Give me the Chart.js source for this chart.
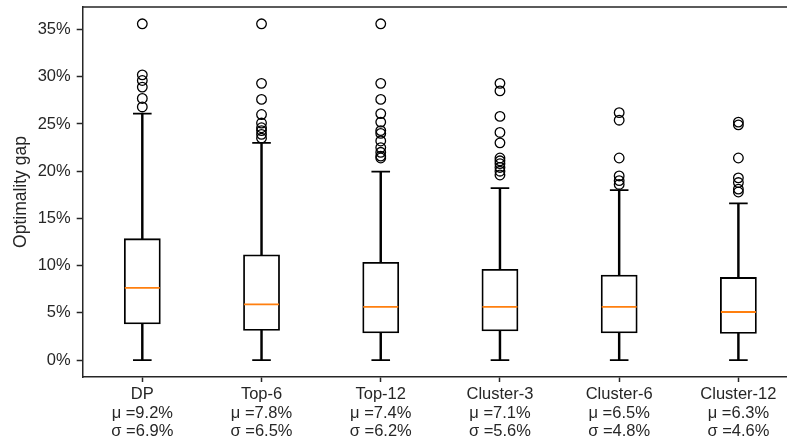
<!DOCTYPE html>
<html>
<head>
<meta charset="utf-8">
<script src="https://cdn.jsdelivr.net/npm/chart.js@4.4.1/dist/chart.umd.min.js"></script>
<style>
  html, body { margin: 0; padding: 0; overflow: hidden; background: #fff; }
  #wrap { width: 798px; height: 444px; }
</style>
</head>
<body>
<div id="wrap"><canvas id="c" width="798" height="444"></canvas></div>
<script>
// Optimality gap distribution per method (values in %)
const categories = ['DP', 'Top-6', 'Top-12', 'Cluster-3', 'Cluster-6', 'Cluster-12'];
const whiskerLow  = [0, 0, 0, 0, 0, 0];
const q1s         = [3.9, 3.2, 2.95, 3.15, 2.95, 2.9];
const medians     = [7.65, 5.9, 5.65, 5.65, 5.65, 5.1];
const q3s         = [12.8, 11.1, 10.3, 9.55, 8.95, 8.7];
const whiskerHigh = [26.1, 23.0, 19.95, 18.2, 18.0, 16.6];
const means       = [9.2, 7.8, 7.4, 7.1, 6.5, 6.3];
const stds        = [6.9, 6.5, 6.2, 5.6, 4.8, 4.6];
const outliers = [
  [35.6, 30.2, 29.6, 28.9, 27.7, 26.8],
  [35.6, 29.3, 27.6, 26.0, 25.1, 24.6, 24.3, 23.9, 23.5],
  [35.6, 29.3, 27.6, 26.1, 25.2, 24.3, 24.0, 23.2, 22.5, 22.0, 21.6, 21.4],
  [29.3, 28.5, 25.8, 24.1, 23.0, 21.4, 21.1, 20.8, 20.4, 20.0, 19.6],
  [26.2, 25.4, 21.4, 19.5, 19.0, 18.6],
  [25.2, 24.9, 21.4, 19.3, 18.8, 18.1, 17.8]
];
const yTicks = [0, 5, 10, 15, 20, 25, 30, 35];

const INK = '#262626';
const FONT = "'Liberation Sans', Arial, sans-serif";

const tickLabels = categories.map((c, i) => [
  c,
  '\u03bc =' + means[i].toFixed(1) + '%',
  '\u03c3 =' + stds[i].toFixed(1) + '%'
]);

const outlierPoints = [];
outliers.forEach((arr, i) => arr.forEach(v => outlierPoints.push({ x: categories[i], y: v })));

// top and right spines
const framePlugin = {
  id: 'frame',
  afterDraw(chart) {
    const { ctx, chartArea: a } = chart;
    ctx.save();
    ctx.strokeStyle = INK;
    ctx.lineWidth = 1.5;
    ctx.beginPath();
    ctx.moveTo(a.left, a.top);
    ctx.lineTo(a.right, a.top);
    ctx.lineTo(a.right, a.bottom);
    ctx.stroke();
    ctx.restore();
  }
};

function noScalePadding(s) {
  s.paddingTop = 0; s.paddingBottom = 0; s.paddingLeft = 0; s.paddingRight = 0;
}

new Chart(document.getElementById('c'), {
  type: 'bar',
  data: {
    labels: categories,
    datasets: [
      {
        label: 'lower whisker',
        data: whiskerLow.map((v, i) => [v, q1s[i]]),
        backgroundColor: '#000', borderWidth: 0,
        barThickness: 1.8, grouped: false, order: 5
      },
      {
        label: 'upper whisker',
        data: q3s.map((v, i) => [v, whiskerHigh[i]]),
        backgroundColor: '#000', borderWidth: 0,
        barThickness: 1.8, grouped: false, order: 5
      },
      {
        label: 'box',
        data: q1s.map((v, i) => [v, q3s[i]]),
        backgroundColor: '#fff', borderColor: '#000', borderWidth: 1.8,
        borderSkipped: false, inflateAmount: 0.9,
        barThickness: 35, grouped: false, order: 4
      },
      {
        type: 'line', label: 'median',
        data: medians.map((v, i) => ({ x: categories[i], y: v })),
        showLine: false, pointStyle: 'line', pointRadius: 17.5,
        pointBorderColor: '#ff7f0e', pointBorderWidth: 1.8, order: 2
      },
      {
        type: 'line', label: 'caps',
        data: whiskerHigh.map((v, i) => ({ x: categories[i], y: v }))
          .concat(whiskerLow.map((v, i) => ({ x: categories[i], y: v }))),
        showLine: false, pointStyle: 'line', pointRadius: 9.3,
        pointBorderColor: '#000', pointBorderWidth: 1.8, order: 2
      },
      {
        type: 'line', label: 'outliers',
        data: outlierPoints,
        showLine: false, pointStyle: 'circle', pointRadius: 4.8,
        pointBackgroundColor: 'rgba(255,255,255,0)',
        pointBorderColor: '#000', pointBorderWidth: 1.3, order: 1
      }
    ]
  },
  options: {
    responsive: false,
    animation: false,
    devicePixelRatio: 1,
    layout: { autoPadding: false, padding: { top: 7, right: 0, bottom: 0, left: 0 } },
    plugins: { legend: { display: false }, tooltip: { enabled: false } },
    scales: {
      x: {
        type: 'category',
        offset: true,
        grid: { display: true, offset: false, drawOnChartArea: false, drawTicks: true, tickLength: 5, tickWidth: 1.5, tickColor: INK },
        border: { display: true, color: INK, width: 1.5 },
        ticks: {
          color: INK, padding: 3, maxRotation: 0, autoSkip: false,
          font: { family: FONT, size: 16.5, lineHeight: 1.135 },
          callback: (v, i) => tickLabels[i]
        },
        afterFit(s) { s.height = 67; noScalePadding(s); }
      },
      y: {
        type: 'linear',
        min: -1.78, max: 37.38,
        afterBuildTicks(s) { s.ticks = yTicks.map(v => ({ value: v })); },
        grid: { display: true, drawOnChartArea: false, drawTicks: true, tickLength: 6, tickWidth: 1.5, tickColor: INK },
        border: { display: true, color: INK, width: 1.5 },
        ticks: {
          color: INK, padding: 6,
          font: { family: FONT, size: 16.5 },
          callback: v => v + '%'
        },
        title: {
          display: true, text: 'Optimality gap', color: INK,
          font: { family: FONT, size: 17.5 }, padding: { top: 11, bottom: 0 }
        },
        afterFit(s) { s.width = 82.7; noScalePadding(s); }
      }
    }
  },
  plugins: [framePlugin]
});
</script>
</body>
</html>
